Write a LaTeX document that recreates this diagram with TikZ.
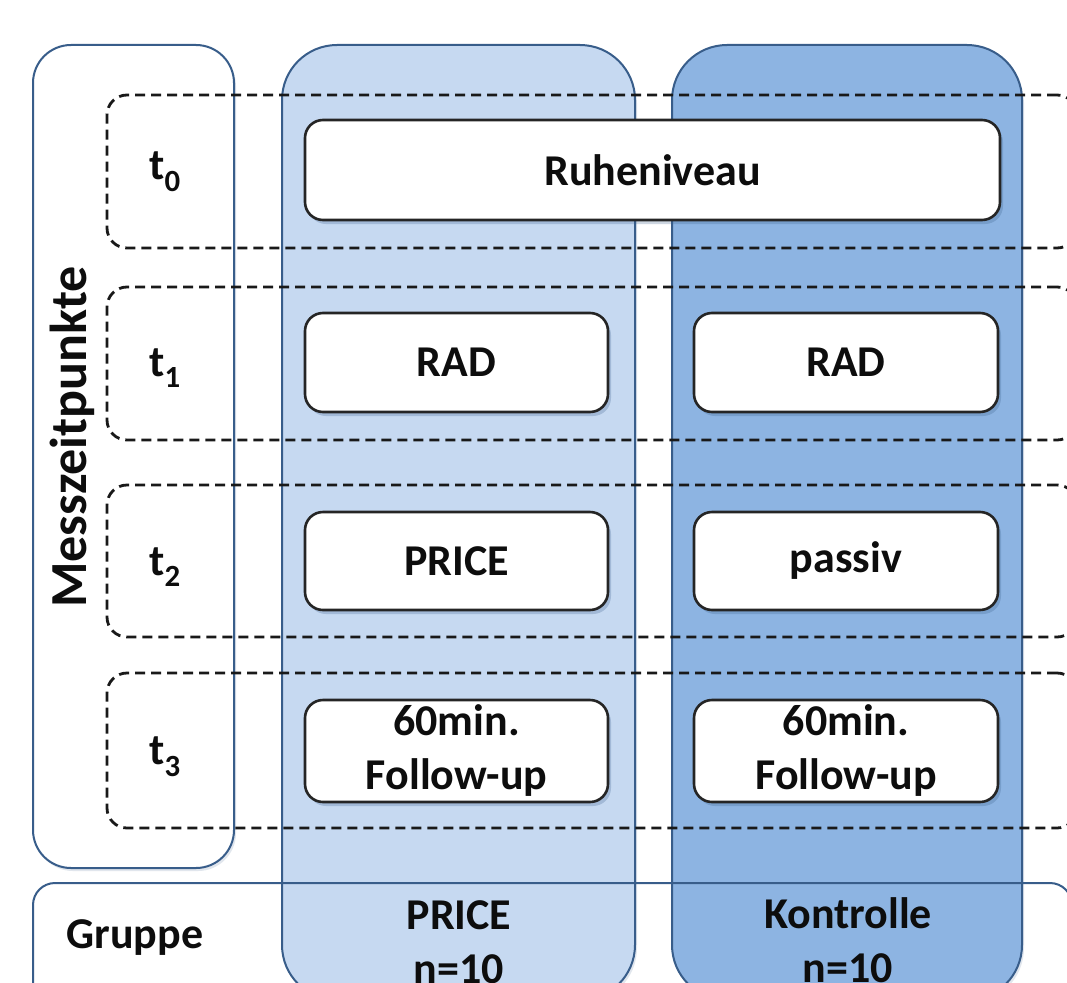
\documentclass[tikz,border=0pt]{standalone}
\usepackage{fontspec}
\setmainfont{Carlito}
\usetikzlibrary{shadows}
\definecolor{outl}{HTML}{385D8A}
\definecolor{lightcol}{HTML}{C6D9F1}
\definecolor{darkcol}{HTML}{8DB4E2}
\definecolor{txt}{HTML}{0D0D0D}
\tikzset{
  panel/.style={draw=outl, line width=2pt, rectangle, inner sep=0pt},
  rowbox/.style={draw=black!90, line width=2.8pt, dash pattern=on 10pt off 6pt, rectangle, rounded corners=20pt, inner sep=0pt, minimum width=970pt},
  whitebox/.style={draw=txt!90, fill=white, line width=2.6pt, rectangle, rounded corners=18pt, inner sep=0pt,
    drop shadow={shadow xshift=3pt, shadow yshift=-4pt, opacity=0.25, fill=outl}},
  lbl/.style={font=\bfseries\fontsize{44}{54}\selectfont, text=txt, align=center, inner sep=0pt},
}
\begin{document}
\begin{tikzpicture}[x=1pt,y=-1pt]
\useasboundingbox (0,0) rectangle (1067,982);
\fill[white] (0,0) rectangle (1067,982);
% left panel
\node[panel, fill=white, rounded corners=38pt, minimum width=201pt, minimum height=823pt,
  drop shadow={shadow xshift=2pt, shadow yshift=-3pt, opacity=0.15, fill=outl}] (mz) at (133.5,456.5) {};
% columns
\node[panel, fill=lightcol, rounded corners=55pt, minimum width=353pt, minimum height=955pt,
  drop shadow={shadow xshift=2pt, shadow yshift=-3pt, opacity=0.15, fill=outl}] (colA) at (458.5,522.5) {};
\node[panel, fill=darkcol, rounded corners=55pt, minimum width=350pt, minimum height=955pt,
  drop shadow={shadow xshift=2pt, shadow yshift=-3pt, opacity=0.15, fill=outl}] (colB) at (847,522.5) {};
% group panel
\node[panel, rounded corners=22pt, minimum width=1039pt, minimum height=127pt] (grp) at (552.5,946.5) {};
% dashed rows
\node[rowbox, minimum height=153pt] (r0) at (592,171.5) {};
\node[rowbox, minimum height=153pt] (r1) at (592,363.5) {};
\node[rowbox, minimum height=152pt] (r2) at (592,561) {};
\node[rowbox, minimum height=155pt] (r3) at (592,750.5) {};
% white boxes
\node[whitebox, minimum width=695pt, minimum height=100pt] (ruhe) at (652.5,170) {};
\node[whitebox, minimum width=303pt, minimum height=99pt] (radA) at (456.5,362.5) {};
\node[whitebox, minimum width=304pt, minimum height=99pt] (radB) at (846,362.5) {};
\node[whitebox, minimum width=303pt, minimum height=98pt] (priceA) at (456.5,561) {};
\node[whitebox, minimum width=304pt, minimum height=98pt] (passB) at (846,561) {};
\node[whitebox, minimum width=303pt, minimum height=102pt] (fuA) at (456.5,751) {};
\node[whitebox, minimum width=304pt, minimum height=102pt] (fuB) at (846,751) {};
% texts
\node[lbl] (t0) at (165,172) {t\textsubscript{0}};
\node[lbl] (t1) at (165,368) {t\textsubscript{1}};
\node[lbl] (t2) at (165,567) {t\textsubscript{2}};
\node[lbl] (t3) at (165,757) {t\textsubscript{3}};
\node[lbl] at (ruhe) {Ruheniveau};
\node[lbl] at (radA) {RAD};
\node[lbl] at (radB) {RAD};
\node[lbl] at (priceA) {PRICE};
\node[lbl] at (passB) {passiv};
\node[lbl] at (fuA) {60min.\\Follow-up};
\node[lbl] at (fuB) {60min.\\Follow-up};
\node[lbl, rotate=90, font=\bfseries\fontsize{52}{60}\selectfont] (mzt) at (72,437) {Messzeitpunkte};
\node[lbl] (gr) at (135,938) {Gruppe};
\node[lbl] (gA) at (459,942) {PRICE\\n=10};
\node[lbl] (gB) at (848,940) {Kontrolle\\n=10};
\end{tikzpicture}
\end{document}
